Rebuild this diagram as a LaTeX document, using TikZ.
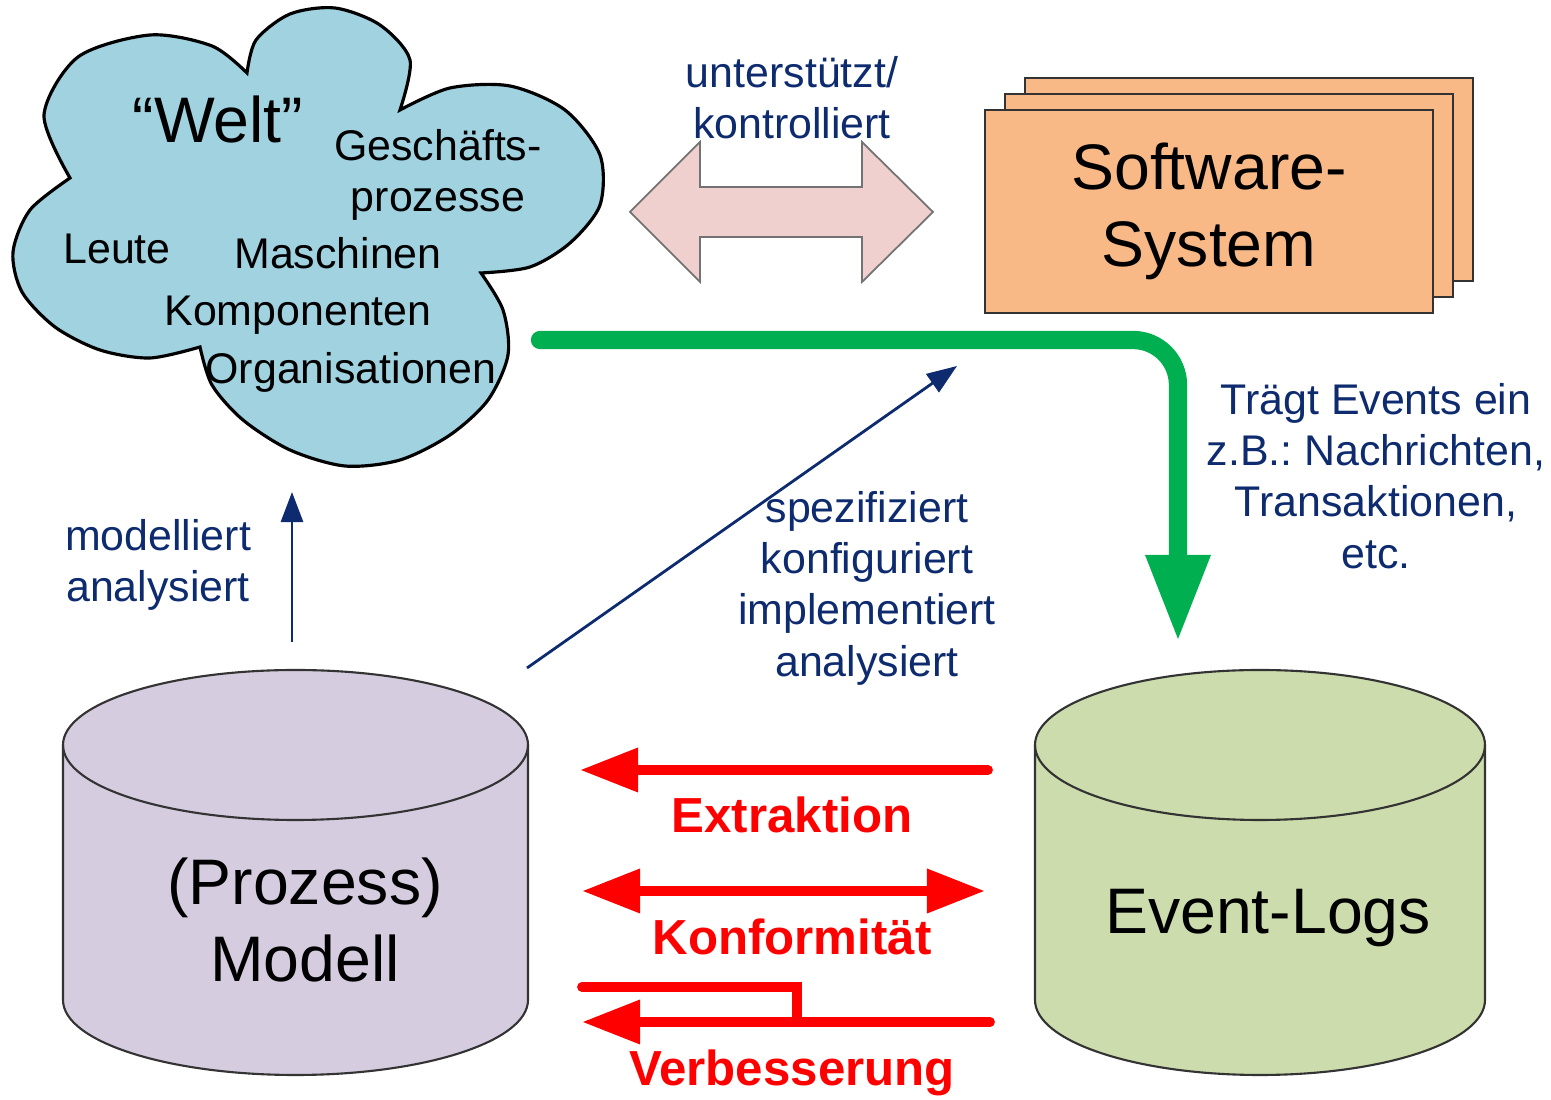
\documentclass[tikz,border=0pt]{standalone}
\usepackage{fontspec}
\setmainfont{Liberation Sans}
\usetikzlibrary{arrows.meta,calc}

\definecolor{cloudblue}{RGB}{160,210,224}
\definecolor{navy}{RGB}{13,43,110}
\definecolor{peach}{RGB}{248,185,135}
\definecolor{pinkarrow}{RGB}{239,208,207}
\definecolor{modellfill}{RGB}{214,204,224}
\definecolor{logfill}{RGB}{204,220,172}
\definecolor{flowgreen}{RGB}{0,176,80}
\definecolor{flowred}{RGB}{255,0,0}

\tikzset{
  txt/.style={inner sep=0pt, align=center, font=\fontsize{12.2}{14.6}\selectfont},
  navytxt/.style={txt, text=navy},
  bigtxt/.style={inner sep=0pt, align=center, font=\fontsize{18.3}{21.8}\selectfont},
  redtxt/.style={inner sep=0pt, text=flowred, font=\fontsize{14}{17}\selectfont\bfseries},
  redline/.style={flowred, line width=2.8pt, line cap=round},
  redarrow/.style={redline, -{Triangle[length=0.58cm,width=0.42cm]}},
  redboth/.style={redline, {Triangle[length=0.58cm,width=0.42cm]}-{Triangle[length=0.58cm,width=0.42cm]}},
  navyarrow/.style={navy, line width=0.8pt, -{Triangle[length=0.3cm,width=0.22cm]}},
  swbox/.style={draw=black!80, fill=peach, line width=0.6pt, minimum width=4.48cm, minimum height=2.03cm}
}

\begin{document}
\begin{tikzpicture}[x=0.01cm, y=0.01cm]
	\useasboundingbox (0,0) rectangle (1551,1100);

	% Welt-Wolke
	\filldraw[fill=cloudblue, draw=black, line width=0.9pt] (70,922)
		-- plot[smooth] coordinates {(70,922) (44,985) (78,1043) (150,1065) (212,1054) (247,1027)}
		-- plot[smooth] coordinates {(247,1027) (256,1060) (290,1086) (335,1092) (380,1075) (410,1040) (400,990)}
		-- plot[smooth] coordinates {(400,990) (450,1012) (510,1014) (565,990) (600,945) (600,895) (570,857) (530,833) (481,827)}
		-- plot[smooth] coordinates {(481,827) (503,790) (508,745) (488,700) (450,665) (400,640) (345,634) (290,650) (243,680) (212,715) (200,753)}
		-- plot[smooth] coordinates {(200,753) (150,742) (100,750) (55,773) (22,808) (13,848) (30,890) (70,922)}
		-- cycle;
	\node[bigtxt] (welt) at (218,980) {``Welt''};
	\node[txt] (gp) at (438,925) {Geschäfts-\\prozesse};
	\node[txt] (leute) at (117,851) {Leute};
	\node[txt] (masch) at (338,847) {Maschinen};
	\node[txt] (komp) at (298,785) {Komponenten};
	\node[txt] (org) at (351,728) {Organisationen};

	% Doppelpfeil Welt <-> Software
	\filldraw[fill=pinkarrow, draw=black!55, line width=0.5pt] (630,888) -- (700,958) -- (700,913)
		-- (862,913) -- (862,958) -- (933,888) -- (862,818) -- (862,863) -- (700,863) -- (700,818) -- cycle;
	\node[navytxt] (unterst) at (792,1002) {unterstützt/\\kontrolliert};

	% Software-System (Stapel)
	\foreach \d in {40,20}
		\node[swbox] at (1209+\d, 888.5+0.8*\d) {};
	\node[swbox, font=\fontsize{18.3}{21.8}\selectfont, align=center] (sw) at (1209,888.5) {Software-\\System};

	% Zylinder
	\foreach \cx/\rx/\col in {295.5/232.5/modellfill, 1260/225/logfill} {
		\filldraw[fill=\col, draw=black!80, line width=0.6pt] (\cx-\rx,355) -- (\cx-\rx,100)
			arc[start angle=180, end angle=360, x radius=\rx, y radius=75]
			-- (\cx+\rx,355) arc[start angle=0, end angle=180, x radius=\rx, y radius=75] -- cycle;
		\draw[black!80, line width=0.6pt] (\cx-\rx,355) arc[start angle=180, end angle=360, x radius=\rx, y radius=75];
	}
	\node[bigtxt] (modell) at (305,180) {(Prozess)\\Modell};
	\node[bigtxt] (logs) at (1268,182) {Event-Logs};

	% Pfeile
	\coordinate (gr-s) at (540,760);
	\coordinate (gr-e) at (1178,458);
	\draw[flowgreen, line width=5.2pt, line cap=round, rounded corners=0.45cm,
		-{Triangle[length=0.87cm,width=0.6cm]}] (gr-s) -- (1178,760) -- (gr-e);
	\node[navytxt] (traegt) at (1376,624) {Trägt Events ein\\z.B.:\ Nachrichten,\\Transaktionen,\\etc.};

	\coordinate (mod-up) at (292,458);
	\coordinate (welt-low) at (292,608);
	\draw[navyarrow] (mod-up) -- (welt-low);
	\node[navytxt] (modell-lbl) at (158,535) {modelliert\\analysiert};

	\coordinate (mod-dg) at (527,432);
	\coordinate (sw-dg) at (957,734);
	\draw[navyarrow] (mod-dg) -- (sw-dg);
	\node[navytxt] (spez) at (867,512) {spezifiziert\\konfiguriert\\implementiert\\analysiert};

	\coordinate (ex-r) at (988,330);
	\coordinate (ex-l) at (580,330);
	\draw[redarrow] (ex-r) -- (ex-l);
	\node[redtxt] (extr) at (792,285) {Extraktion};

	\coordinate (ko-l) at (582,209);
	\coordinate (ko-r) at (985,209);
	\draw[redboth] (ko-l) -- (ko-r);
	\node[redtxt] (konf) at (792,163) {Konformität};

	\coordinate (vb-a) at (582,113);
	\coordinate (vb-r) at (990,78);
	\coordinate (vb-l) at (582,78);
	\draw[redline] (vb-a) -- (797,113) -- (797,78);
	\draw[redarrow] (vb-r) -- (vb-l);
	\node[redtxt] (verb) at (792,27) {Verbesserung};
\end{tikzpicture}
\end{document}
